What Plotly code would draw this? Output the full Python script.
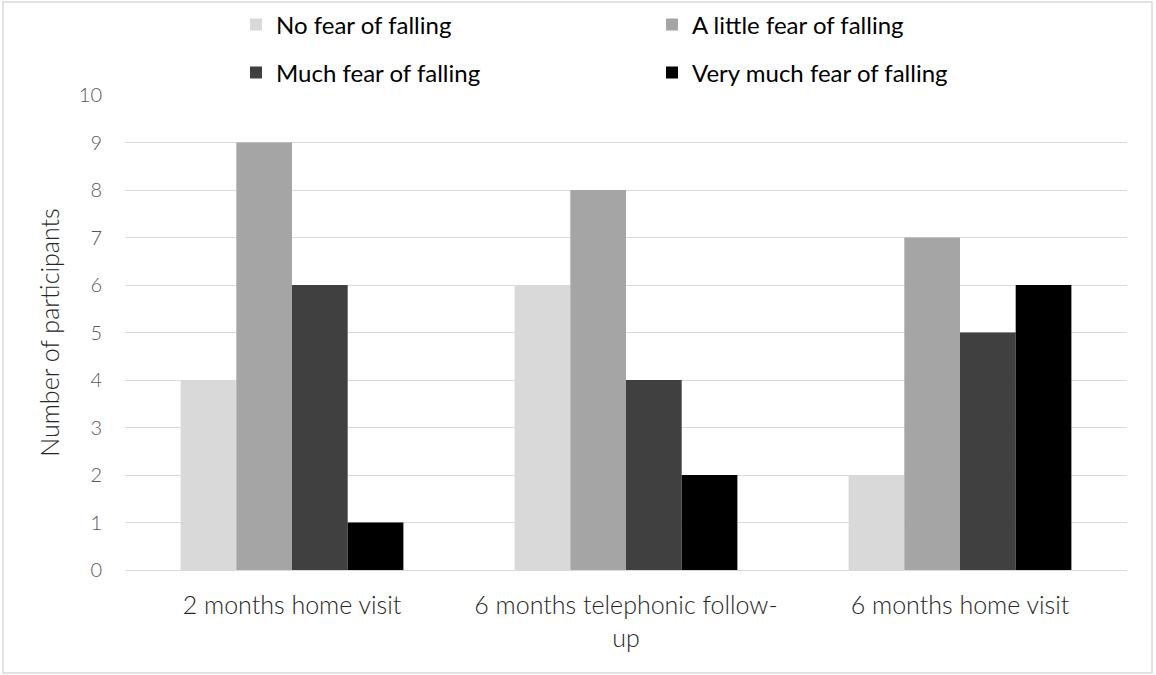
import plotly.graph_objects as go

# Survey time points and counts per fear-of-falling level
categories = ["2 months home visit", "6 months telephonic follow-<br>up", "6 months home visit"]
no_fear = [4, 6, 2]
little_fear = [9, 8, 7]
much_fear = [6, 4, 5]
very_much_fear = [1, 2, 6]

W, H = 1156, 675
ml, mr, mt, mb = 125, 29, 95, 105
pw, ph = W - ml - mr, H - mt - mb

# legend slots (left edge x, row centre y) in page pixels
series = [
    ("No fear of falling", no_fear, "#d9d9d9", "legend", 236, 25),
    ("A little fear of falling", little_fear, "#a5a5a5", "legend2", 652, 25),
    ("Much fear of falling", much_fear, "#404040", "legend3", 236, 73),
    ("Very much fear of falling", very_much_fear, "#000000", "legend4", 652, 73),
]

FONT = "Lato"

fig = go.Figure()
for name, vals, color, leg, _, _ in series:
    fig.add_trace(go.Bar(
        name=name, x=categories, y=vals,
        marker=dict(color=color, line=dict(width=0)),
        legend=leg, showlegend=True,
    ))

def px_x(x):
    return (x - ml) / pw

def px_y(y):
    return (H - mb - y) / ph

legends = {}
for _, _, _, leg, lx, ly in series:
    legends[leg] = dict(
        visible=True,
        orientation="h", xanchor="left", yanchor="middle",
        xref="container", yref="container",
        x=lx / W, y=1 - ly / H,
        font=dict(family=FONT, size=24, color="#000000", weight=400),
        itemwidth=30, bgcolor="rgba(0,0,0,0)",
    )

fig.update_layout(
    width=W, height=H,
    margin=dict(l=ml, r=mr, t=mt, b=mb, autoexpand=False),
    paper_bgcolor="white", plot_bgcolor="white",
    showlegend=True,
    barmode="group", bargap=0.333, bargroupgap=0,
    font=dict(family=FONT, color="#595959", weight=300),
    xaxis=dict(
        showgrid=False, showline=True, linecolor="#d9d9d9", linewidth=1,
        ticks="", ticklabelstandoff=13,
        tickfont=dict(family=FONT, size=25, color="#262626", weight=300),
    ),
    yaxis=dict(
        range=[0, 10], dtick=1, showgrid=True, gridcolor="#d9d9d9", gridwidth=1,
        zeroline=True, zerolinecolor="#d9d9d9", zerolinewidth=1,
        showline=False, ticks="", ticklabelstandoff=22,
        tickfont=dict(family=FONT, size=20, color="#595959", weight=300),
        title=dict(text="Number of participants", standoff=12,
                   font=dict(family=FONT, size=25, color="#262626", weight=300)),
    ),
    shapes=[dict(
        type="rect", xref="paper", yref="paper",
        x0=px_x(3), x1=px_x(1152), y0=px_y(2), y1=px_y(673),
        line=dict(color="#d9d9d9", width=1.5), fillcolor="rgba(0,0,0,0)",
        layer="below",
    )],
    **legends,
)

fig.write_html("out.html")
